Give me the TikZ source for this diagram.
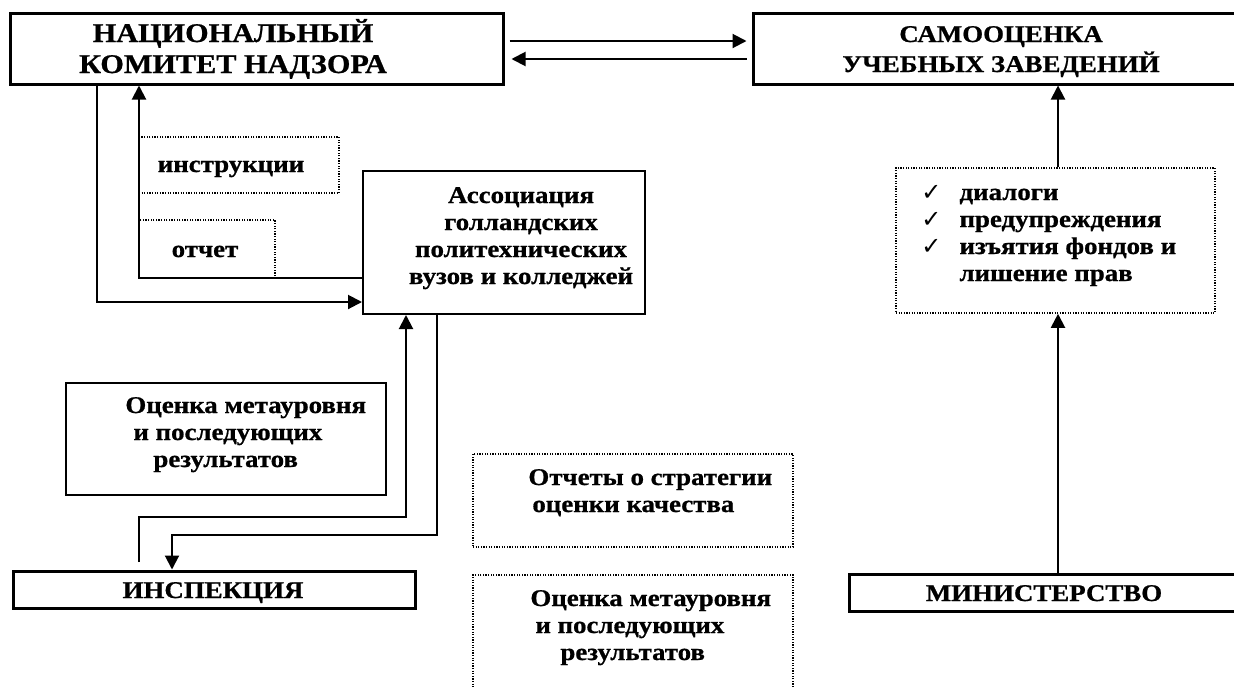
\documentclass[tikz,border=0pt]{standalone}
\usepackage{fontspec}
\setmainfont{Liberation Serif}[FakeStretch=1.12, BoldFeatures={FakeBold=0.8}]
\newfontfamily\dejavu{DejaVu Sans}
\usetikzlibrary{fit,shadows,arrows.meta}
\begin{document}
\begin{tikzpicture}[x=0.5pt,y=-0.5pt,
  >={Triangle[length=7pt,width=7pt]},
  conn/.style={line width=1pt},
  box/.style={draw, line width=1.5pt, fill=white, inner sep=0pt},
  sbox/.style={box, drop shadow={shadow xshift=0.9pt, shadow yshift=-1.2pt, opacity=1, fill=black}},
  tbox/.style={draw, line width=1pt, inner sep=0pt},
  dbox/.style={draw, line width=0.8pt, dash pattern=on 0.6pt off 0.7pt, inner sep=0pt},
  bignk/.style={inner sep=0pt, font=\fontsize{13.5}{15.5}\selectfont\bfseries},
  big/.style={inner sep=0pt, font=\fontsize{12}{15}\selectfont\bfseries},
  small/.style={inner sep=0pt, font=\fontsize{12}{13.5}\selectfont\bfseries},
  ck/.style={}]
\path[use as bounding box, fill=white] (0,0) rectangle (1234,686);

% boxes
\node[sbox, fit={(10,13) (503,84)}] (nk) {};
\node[sbox, fit={(753,13) (1260,84)}] (su) {};
\node[dbox, fit={(139,137) (339,193)}] (instr) {};
\node[dbox, fit={(139,220) (275,278)}] (otch) {};
\node[tbox, fit={(363,171) (645,314)}] (assoc) {};
\node[tbox, fit={(66,383) (386,495)}] (ots1) {};
\node[sbox, fit={(13,571) (415,608)}] (insp) {};
\node[dbox, fit={(473,454) (793,547)}] (strat) {};
\node[dbox, fit={(473,575) (793,700)}] (ots2) {};
\node[dbox, fit={(896,168) (1215,313)}] (sanc) {};
\node[box, fit={(849,574) (1260,611)}] (min) {};

% texts
\node[bignk, anchor=base] (nkt) at (233,42) {\begin{tabular}[t]{@{}c@{}}НАЦИОНАЛЬНЫЙ\\КОМИТЕТ НАДЗОРА\end{tabular}};
\node[big, anchor=base] (sut) at (1001,42) {\begin{tabular}[t]{@{}c@{}}САМООЦЕНКА\\УЧЕБНЫХ ЗАВЕДЕНИЙ\end{tabular}};
\node[small, anchor=base] (instrt) at (231,172) {инструкции};
\node[small, anchor=base] (otcht) at (205,257) {отчет};
\node[small, anchor=base] (assoct) at (521,203) {\begin{tabular}[t]{@{}c@{}}Ассоциация\\голландских\\политехнических\\вузов и колледжей\end{tabular}};
\node[small, anchor=base west] (ots1t) at (125,413) {\begin{tabular}[t]{@{}l@{}}Оценка метауровня\\\hspace{4pt}и последующих\\\hspace{14pt}результатов\end{tabular}};
\node[big, anchor=base] (inspt) at (213,598) {ИНСПЕКЦИЯ};
\node[small, anchor=base west] (stratt) at (528,485) {\begin{tabular}[t]{@{}l@{}}Отчеты о стратегии\\\hspace{2pt}оценки качества\end{tabular}};
\node[small, anchor=base west] (ots2t) at (530,606) {\begin{tabular}[t]{@{}l@{}}Оценка метауровня\\\hspace{2.5pt}и последующих\\\hspace{15pt}результатов\end{tabular}};
\node[small, anchor=base west] (sanct) at (921,200) {\begin{tabular}[t]{@{}l@{\hspace{9pt}}l@{}}{\dejavu\fontsize{12}{13.5}\selectfont ✓} & диалоги\\{\dejavu\fontsize{12}{13.5}\selectfont ✓} & предупреждения\\{\dejavu\fontsize{12}{13.5}\selectfont ✓} & изъятия фондов и\\ & лишение прав\end{tabular}};
\node[big, anchor=base] (mint) at (1044,601) {МИНИСТЕРСТВО};

% helper coordinates
\coordinate (xa) at (97,0);
\coordinate (xb) at (139,0);
\coordinate (xc) at (406,0);
\coordinate (xd) at (437,0);
\coordinate (xe) at (172,0);
\coordinate (xf) at (1058,0);
\coordinate (ya) at (0,41);
\coordinate (yb) at (0,59);
\coordinate (yc) at (0,302);
\coordinate (yd) at (0,278);
\coordinate (ye) at (0,517);
\coordinate (yf) at (0,535);
\coordinate (yg) at (0,562);

% connectors
\draw[conn, ->, shorten <=2.5pt, shorten >=2.5pt] (nk.east |- ya) -- (su.west |- ya);
\draw[conn, ->, shorten <=2.5pt, shorten >=3.5pt] (su.west |- yb) -- (nk.east |- yb);
\draw[conn, ->] (nk.south -| xa) |- (assoc.west |- yc);
\draw[conn, ->] (assoc.west |- yd) -| (nk.south -| xb);
\draw[conn, ->] (xb |- yg) |- (xc |- ye) -- (assoc.south -| xc);
\draw[conn, ->] (assoc.south -| xd) |- (xe |- yf) -- (insp.north -| xe);
\draw[conn, ->] (min.north -| xf) -- (sanc.south -| xf);
\draw[conn, ->] (sanc.north -| xf) -- (su.south -| xf);
\end{tikzpicture}
\end{document}
